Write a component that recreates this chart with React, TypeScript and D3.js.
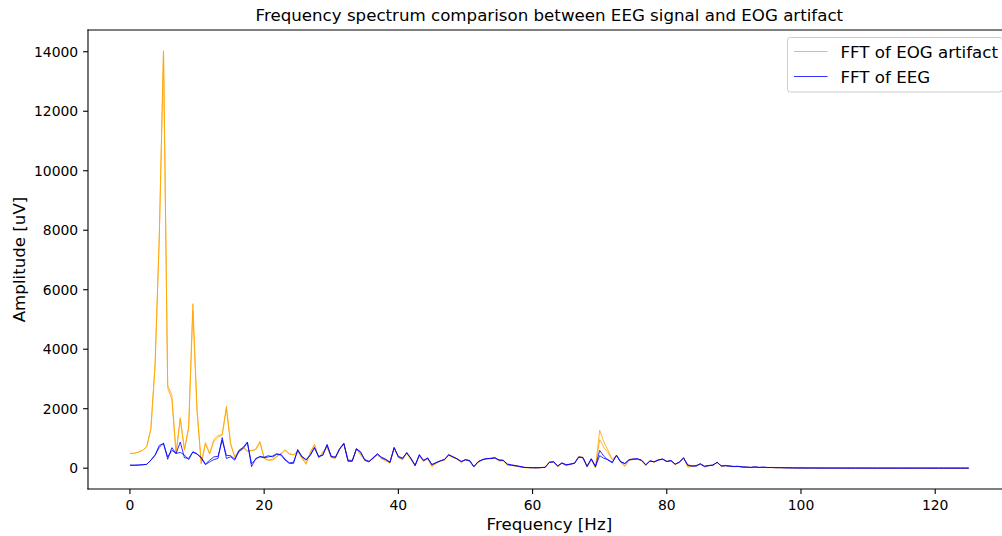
import React from "react";
import * as d3 from "d3";

// Spectrum bins: 250 Hz sampling, 400-point FFT -> 0.625 Hz per bin, 0..125 Hz
const SAMPLE_RATE = 250;
const N_FFT = 400;
const FREQ_STEP = SAMPLE_RATE / N_FFT;

// EOG artifact spectrum (two traces)
const eogA = [
  495, 500, 540, 600, 720, 1330, 3500, 7800, 14030, 2790,
  2450, 520, 1700, 640, 1400, 5530, 2000, 160, 860, 500,
  970, 1100, 1130, 2080, 840, 390, 600, 700, 600, 580,
  650, 900, 330, 260, 270, 380, 490, 620, 490, 440,
  570, 330, 130, 540, 800, 330, 550, 720, 350, 350,
  660, 830, 270, 270, 660, 450, 270, 210, 380, 440,
  330, 240, 190, 700, 350, 300, 500, 300, 90, 420,
  230, 330, 50, 170, 230, 280, 430, 370, 300, 200,
  280, 230, 40, 200, 270, 310, 340, 360, 250, 250,
  110, 90, 70, 55, 20, 15, 12, 12, 18, 30,
  220, 200, 60, 160, 90, 130, 180, 390, 370, 30,
  300, 10, 1280, 880, 600, 300, 420, 200, 60, 270,
  300, 300, 250, 90, 250, 200, 290, 310, 220, 260,
  120, 200, 360, 40, 60, 90, 150, 40, 100, 90,
  210, 60, 95, 60, 55, 55, 40, 30, 20, 40,
  20, 30, 18, 22, 15, 18, 12, 10, 9, 7,
  8, 6, 5, 6, 4, 5, 4, 4, 4, 3,
  3, 3, 3, 2, 3, 3, 2, 2, 2, 2,
  2, 2, 2, 2, 2, 2, 2, 2, 2, 2,
  2, 2, 2, 2, 2, 2, 2, 2, 2, 2, 2,
];

const eogB = [
  495, 500, 540, 600, 720, 1330, 3500, 7800, 14030, 2700,
  2300, 480, 1650, 600, 1350, 5300, 1900, 150, 820, 480,
  900, 1040, 1120, 2000, 800, 360, 580, 680, 560, 600,
  620, 860, 350, 280, 300, 400, 470, 600, 470, 460,
  550, 350, 160, 520, 780, 350, 530, 700, 370, 330,
  640, 810, 290, 250, 640, 470, 250, 230, 360, 460,
  310, 260, 170, 680, 370, 280, 520, 280, 110, 400,
  250, 310, 70, 160, 250, 270, 450, 350, 320, 190,
  290, 220, 50, 190, 280, 300, 330, 370, 240, 260,
  100, 100, 60, 50, 25, 12, 14, 10, 20, 25,
  210, 210, 50, 170, 80, 140, 170, 380, 360, 40,
  290, 20, 960, 700, 520, 280, 410, 210, 70, 260,
  290, 310, 240, 100, 240, 210, 280, 300, 230, 250,
  130, 190, 350, 50, 50, 100, 140, 50, 90, 100,
  200, 70, 85, 65, 50, 60, 35, 32, 22, 35,
  22, 28, 20, 20, 16, 16, 13, 9, 10, 6,
  7, 6, 6, 5, 5, 4, 4, 3, 4, 3,
  3, 2, 3, 3, 2, 2, 3, 2, 2, 2,
  2, 2, 2, 2, 2, 2, 2, 2, 2, 2,
  2, 2, 2, 2, 2, 2, 2, 2, 2, 2, 2,
];

// EEG spectrum (two traces)
const eegA = [
  100, 100, 105, 115, 130, 270, 440, 700, 850, 300,
  690, 490, 880, 350, 330, 550, 490, 330, 120, 210,
  290, 330, 1030, 330, 380, 270, 600, 700, 880, 50,
  330, 380, 350, 380, 410, 490, 440, 270, 160, 160,
  630, 380, 270, 450, 700, 380, 450, 800, 380, 380,
  660, 840, 230, 230, 660, 550, 270, 210, 350, 490,
  350, 290, 190, 700, 380, 320, 530, 320, 80, 460,
  250, 350, 110, 180, 250, 290, 460, 380, 320, 220,
  290, 250, 45, 210, 290, 320, 330, 350, 270, 270,
  130, 100, 80, 60, 25, 20, 15, 15, 20, 30,
  200, 210, 70, 180, 110, 140, 160, 380, 360, 60,
  320, 50, 600, 400, 270, 180, 440, 210, 150, 290,
  310, 310, 270, 110, 250, 210, 280, 300, 230, 250,
  130, 210, 350, 100, 70, 80, 140, 60, 90, 100,
  200, 70, 90, 70, 60, 60, 45, 35, 25, 45,
  25, 35, 22, 25, 18, 20, 15, 12, 10, 8,
  9, 7, 6, 7, 5, 6, 5, 4, 5, 4,
  4, 3, 4, 3, 3, 4, 3, 3, 2, 3,
  3, 2, 3, 2, 2, 3, 2, 2, 2, 3,
  2, 2, 2, 2, 3, 2, 2, 2, 2, 2, 2,
];

const eegB = [
  100, 100, 105, 115, 130, 270, 440, 770, 820, 380,
  600, 500, 530, 440, 290, 540, 470, 370, 140, 270,
  380, 400, 940, 430, 420, 310, 560, 660, 860, 150,
  300, 400, 370, 420, 380, 460, 470, 300, 180, 200,
  600, 400, 290, 430, 680, 400, 430, 780, 400, 360,
  640, 820, 250, 250, 640, 530, 290, 230, 330, 470,
  370, 300, 210, 680, 400, 340, 510, 340, 100, 440,
  270, 330, 130, 190, 240, 300, 440, 390, 310, 230,
  280, 260, 60, 220, 280, 330, 320, 340, 280, 260,
  140, 110, 90, 50, 30, 22, 18, 14, 22, 28,
  190, 220, 80, 170, 120, 130, 170, 370, 350, 70,
  310, 60, 420, 330, 290, 200, 430, 220, 160, 280,
  300, 320, 260, 120, 240, 220, 270, 310, 220, 260,
  140, 200, 340, 110, 80, 70, 150, 70, 80, 110,
  190, 80, 80, 75, 55, 65, 40, 38, 28, 40,
  28, 30, 25, 22, 20, 18, 16, 11, 11, 7,
  8, 7, 7, 6, 6, 5, 5, 5, 4, 4,
  3, 4, 3, 3, 4, 3, 3, 2, 3, 3,
  2, 3, 2, 2, 3, 2, 2, 3, 2, 2,
  2, 2, 3, 2, 2, 2, 2, 2, 2, 2, 2,
];

const xTicks = [0, 20, 40, 60, 80, 100, 120];
const yTicks = [0, 2000, 4000, 6000, 8000, 10000, 12000, 14000];

const TITLE = "Frequency spectrum comparison between EEG signal and EOG artifact";
const X_LABEL = "Frequency [Hz]";
const Y_LABEL = "Amplitude [uV]";
const LEGEND = [
  { label: "FFT of EOG artifact", color: "orange" },
  { label: "FFT of EEG", color: "blue" },
];

const W = 1002;
const H = 536;
const AX = { left: 88, right: 1010.7, top: 30, bottom: 489 };
const FONT = "DejaVu Sans, Liberation Sans, sans-serif";

export default function App() {
  const freqs = eegA.map((_, i) => i * FREQ_STEP);
  const fMax = freqs[freqs.length - 1];
  const all = [...eogA, ...eogB, ...eegA, ...eegB];
  const vMin = d3.min(all) as number;
  const vMax = d3.max(all) as number;
  const xPad = (fMax - 0) * 0.05;
  const yPad = (vMax - vMin) * 0.05;

  const x = d3.scaleLinear().domain([0 - xPad, fMax + xPad]).range([AX.left, AX.right]);
  const y = d3.scaleLinear().domain([vMin - yPad, vMax + yPad]).range([AX.bottom, AX.top]);

  const line = d3
    .line<number>()
    .x((_, i) => x(freqs[i]))
    .y((d) => y(d));

  const traces = [
    { data: eogA, color: "orange" },
    { data: eogB, color: "orange" },
    { data: eegA, color: "blue" },
    { data: eegB, color: "blue" },
  ];

  const tickLen = 4.9;
  const tickFont = 13.9;
  const labelFont = 16.67;

  return (
    <svg
      width={W}
      height={H}
      viewBox={`0 0 ${W} ${H}`}
      style={{ position: "absolute", left: 0, top: 0, background: "#fff" }}
      fontFamily={FONT}
    >
      <rect x={0} y={0} width={W} height={H} fill="#fff" />
      <defs>
        <clipPath id="plot-area">
          <rect x={AX.left} y={AX.top} width={AX.right - AX.left} height={AX.bottom - AX.top} />
        </clipPath>
      </defs>

      <text x={(AX.left + AX.right) / 2} y={21} textAnchor="middle" fontSize={labelFont} fill="#000">
        {TITLE}
      </text>

      <g clipPath="url(#plot-area)">
        {traces.map((t, k) => (
          <path
            key={k}
            d={line(t.data) || ""}
            fill="none"
            stroke={t.color}
            strokeWidth={0.8}
            strokeLinejoin="round"
          />
        ))}
      </g>

      {/* spines */}
      <g stroke="#000" strokeWidth={1.1} fill="none" strokeLinecap="square">
        <line x1={AX.left} y1={AX.top} x2={AX.left} y2={AX.bottom} />
        <line x1={AX.left} y1={AX.bottom} x2={AX.right} y2={AX.bottom} />
        <line x1={AX.left} y1={AX.top} x2={AX.right} y2={AX.top} />
        <line x1={AX.right} y1={AX.top} x2={AX.right} y2={AX.bottom} />
      </g>

      {/* x axis ticks */}
      {xTicks.map((t) => (
        <g key={`x${t}`}>
          <line x1={x(t)} x2={x(t)} y1={AX.bottom} y2={AX.bottom + tickLen} stroke="#000" strokeWidth={1.1} />
          <text x={x(t)} y={AX.bottom + 20.5} textAnchor="middle" fontSize={tickFont} fill="#000">
            {t}
          </text>
        </g>
      ))}

      {/* y axis ticks */}
      {yTicks.map((t) => (
        <g key={`y${t}`}>
          <line x1={AX.left - tickLen} x2={AX.left} y1={y(t)} y2={y(t)} stroke="#000" strokeWidth={1.1} />
          <text x={AX.left - tickLen - 4.9} y={y(t) + 5} textAnchor="end" fontSize={tickFont} fill="#000">
            {t}
          </text>
        </g>
      ))}

      <text x={(AX.left + AX.right) / 2} y={530} textAnchor="middle" fontSize={labelFont} fill="#000">
        {X_LABEL}
      </text>
      <text
        transform={`translate(24.8, ${(AX.top + AX.bottom) / 2}) rotate(-90)`}
        textAnchor="middle"
        fontSize={labelFont}
        fill="#000"
      >
        {Y_LABEL}
      </text>

      {/* legend */}
      <g>
        <rect
          x={787.5}
          y={37.5}
          width={215}
          height={54.5}
          rx={2.8}
          fill="#fff"
          fillOpacity={0.8}
          stroke="#cccccc"
          strokeWidth={1}
        />
        {LEGEND.map((d, i) => (
          <g key={d.label}>
            <line x1={794} x2={827.5} y1={51.5 + i * 25} y2={51.5 + i * 25} stroke={d.color} strokeWidth={0.8} />
            <text x={840.5} y={57.7 + i * 25} fontSize={labelFont} fill="#000">
              {d.label}
            </text>
          </g>
        ))}
      </g>
    </svg>
  );
}
